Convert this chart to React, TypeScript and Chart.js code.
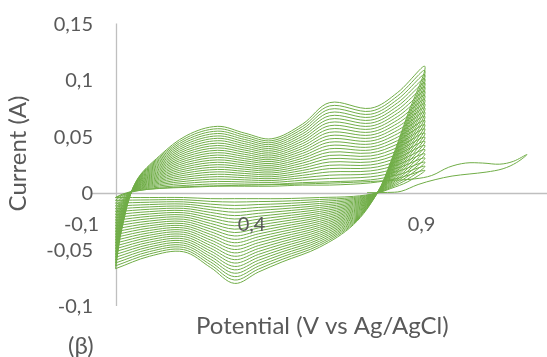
import React, { useEffect, useRef } from "react";
import { Chart, registerables } from "chart.js";

Chart.register(...registerables);

// Shared potential programme of every repeated cycle (V): anodic 0 -> 0.91, then cathodic back to 0
const potentials = [
  0.0, 0.02, 0.06, 0.13, 0.21, 0.3, 0.38, 0.46, 0.55, 0.63, 0.75, 0.83, 0.91,
  0.86, 0.81, 0.77, 0.7, 0.6, 0.49, 0.42, 0.35, 0.28, 0.2, 0.1, 0.0,
];

// Current (A) of each cycle, innermost to outermost
const cycle01 = [-0.004, -0.001, 0.002, 0.004, 0.005, 0.006, 0.006, 0.006, 0.007, 0.007, 0.009, 0.013, 0.02, 0.01, 0.004, 0, -0.003, -0.004, -0.005, -0.005, -0.005, -0.005, -0.004, -0.004, -0.004];
const cycle02 = [-0.00652, -0.00216, 0.00232, 0.00516, 0.00684, 0.00812, 0.00788, 0.00768, 0.00916, 0.00992, 0.01164, 0.01604, 0.02368, 0.0124, 0.00496, 0, -0.004, -0.00576, -0.00724, -0.0076, -0.008, -0.00744, -0.00592, -0.00608, -0.00652];
const cycle03 = [-0.00904, -0.00332, 0.00264, 0.00632, 0.00868, 0.01024, 0.00976, 0.00936, 0.01132, 0.01284, 0.01428, 0.01908, 0.02736, 0.0148, 0.00592, 0, -0.005, -0.00752, -0.00948, -0.0102, -0.011, -0.00988, -0.00784, -0.00816, -0.00904];
const cycle04 = [-0.01156, -0.00448, 0.00296, 0.00748, 0.01052, 0.01236, 0.01164, 0.01104, 0.01348, 0.01576, 0.01692, 0.02212, 0.03104, 0.0172, 0.00688, 0, -0.006, -0.00928, -0.01172, -0.0128, -0.014, -0.01232, -0.00976, -0.01024, -0.01156];
const cycle05 = [-0.01408, -0.00564, 0.00328, 0.00864, 0.01236, 0.01448, 0.01352, 0.01272, 0.01564, 0.01868, 0.01956, 0.02516, 0.03472, 0.0196, 0.00784, 0, -0.007, -0.01104, -0.01396, -0.0154, -0.017, -0.01476, -0.01168, -0.01232, -0.01408];
const cycle06 = [-0.0166, -0.0068, 0.0036, 0.0098, 0.0142, 0.0166, 0.0154, 0.0144, 0.0178, 0.0216, 0.0222, 0.0282, 0.0384, 0.022, 0.0088, 0, -0.008, -0.0128, -0.0162, -0.018, -0.02, -0.0172, -0.0136, -0.0144, -0.0166];
const cycle07 = [-0.01912, -0.00796, 0.00392, 0.01096, 0.01604, 0.01872, 0.01728, 0.01608, 0.01996, 0.02452, 0.02484, 0.03124, 0.04208, 0.0244, 0.00976, 0, -0.009, -0.01456, -0.01844, -0.0206, -0.023, -0.01964, -0.01552, -0.01648, -0.01912];
const cycle08 = [-0.02164, -0.00912, 0.00424, 0.01212, 0.01788, 0.02084, 0.01916, 0.01776, 0.02212, 0.02744, 0.02748, 0.03428, 0.04576, 0.0268, 0.01072, 0, -0.01, -0.01632, -0.02068, -0.0232, -0.026, -0.02208, -0.01744, -0.01856, -0.02164];
const cycle09 = [-0.02416, -0.01028, 0.00456, 0.01328, 0.01972, 0.02296, 0.02104, 0.01944, 0.02428, 0.03036, 0.03012, 0.03732, 0.04944, 0.0292, 0.01168, 0, -0.011, -0.01808, -0.02292, -0.0258, -0.029, -0.02452, -0.01936, -0.02064, -0.02416];
const cycle10 = [-0.02668, -0.01144, 0.00488, 0.01444, 0.02156, 0.02508, 0.02292, 0.02112, 0.02644, 0.03328, 0.03276, 0.04036, 0.05312, 0.0316, 0.01264, 0, -0.012, -0.01984, -0.02516, -0.0284, -0.032, -0.02696, -0.02128, -0.02272, -0.02668];
const cycle11 = [-0.0292, -0.0126, 0.0052, 0.0156, 0.0234, 0.0272, 0.0248, 0.0228, 0.0286, 0.0362, 0.0354, 0.0434, 0.0568, 0.034, 0.0136, 0, -0.013, -0.0216, -0.0274, -0.031, -0.035, -0.0294, -0.0232, -0.0248, -0.0292];
const cycle12 = [-0.03172, -0.01376, 0.00552, 0.01676, 0.02524, 0.02932, 0.02668, 0.02448, 0.03076, 0.03912, 0.03804, 0.04644, 0.06048, 0.0364, 0.01456, 0, -0.014, -0.02336, -0.02964, -0.0336, -0.038, -0.03184, -0.02512, -0.02688, -0.03172];
const cycle13 = [-0.03424, -0.01492, 0.00584, 0.01792, 0.02708, 0.03144, 0.02856, 0.02616, 0.03292, 0.04204, 0.04068, 0.04948, 0.06416, 0.0388, 0.01552, 0, -0.015, -0.02512, -0.03188, -0.0362, -0.041, -0.03428, -0.02704, -0.02896, -0.03424];
const cycle14 = [-0.03676, -0.01608, 0.00616, 0.01908, 0.02892, 0.03356, 0.03044, 0.02784, 0.03508, 0.04496, 0.04332, 0.05252, 0.06784, 0.0412, 0.01648, 0, -0.016, -0.02688, -0.03412, -0.0388, -0.044, -0.03672, -0.02896, -0.03104, -0.03676];
const cycle15 = [-0.03928, -0.01724, 0.00648, 0.02024, 0.03076, 0.03568, 0.03232, 0.02952, 0.03724, 0.04788, 0.04596, 0.05556, 0.07152, 0.0436, 0.01744, 0, -0.017, -0.02864, -0.03636, -0.0414, -0.047, -0.03916, -0.03088, -0.03312, -0.03928];
const cycle16 = [-0.0418, -0.0184, 0.0068, 0.0214, 0.0326, 0.0378, 0.0342, 0.0312, 0.0394, 0.0508, 0.0486, 0.0586, 0.0752, 0.046, 0.0184, 0, -0.018, -0.0304, -0.0386, -0.044, -0.05, -0.0416, -0.0328, -0.0352, -0.0418];
const cycle17 = [-0.04432, -0.01956, 0.00712, 0.02256, 0.03444, 0.03992, 0.03608, 0.03288, 0.04156, 0.05372, 0.05124, 0.06164, 0.07888, 0.0484, 0.01936, 0, -0.019, -0.03216, -0.04084, -0.0466, -0.053, -0.04404, -0.03472, -0.03728, -0.04432];
const cycle18 = [-0.04684, -0.02072, 0.00744, 0.02372, 0.03628, 0.04204, 0.03796, 0.03456, 0.04372, 0.05664, 0.05388, 0.06468, 0.08256, 0.0508, 0.02032, 0, -0.02, -0.03392, -0.04308, -0.0492, -0.056, -0.04648, -0.03664, -0.03936, -0.04684];
const cycle19 = [-0.04936, -0.02188, 0.00776, 0.02488, 0.03812, 0.04416, 0.03984, 0.03624, 0.04588, 0.05956, 0.05652, 0.06772, 0.08624, 0.0532, 0.02128, 0, -0.021, -0.03568, -0.04532, -0.0518, -0.059, -0.04892, -0.03856, -0.04144, -0.04936];
const cycle20 = [-0.05188, -0.02304, 0.00808, 0.02604, 0.03996, 0.04628, 0.04172, 0.03792, 0.04804, 0.06248, 0.05916, 0.07076, 0.08992, 0.0556, 0.02224, 0, -0.022, -0.03744, -0.04756, -0.0544, -0.062, -0.05136, -0.04048, -0.04352, -0.05188];
const cycle21 = [-0.0544, -0.0242, 0.0084, 0.0272, 0.0418, 0.0484, 0.0436, 0.0396, 0.0502, 0.0654, 0.0618, 0.0738, 0.0936, 0.058, 0.0232, 0, -0.023, -0.0392, -0.0498, -0.057, -0.065, -0.0538, -0.0424, -0.0456, -0.0544];
const cycle22 = [-0.05692, -0.02536, 0.00872, 0.02836, 0.04364, 0.05052, 0.04548, 0.04128, 0.05236, 0.06832, 0.06444, 0.07684, 0.09728, 0.0604, 0.02416, 0, -0.024, -0.04096, -0.05204, -0.0596, -0.068, -0.05624, -0.04432, -0.04768, -0.05692];
const cycle23 = [-0.05944, -0.02652, 0.00904, 0.02952, 0.04548, 0.05264, 0.04736, 0.04296, 0.05452, 0.07124, 0.06708, 0.07988, 0.10096, 0.0628, 0.02512, 0, -0.025, -0.04272, -0.05428, -0.0622, -0.071, -0.05868, -0.04624, -0.04976, -0.05944];
const cycle24 = [-0.06196, -0.02768, 0.00936, 0.03068, 0.04732, 0.05476, 0.04924, 0.04464, 0.05668, 0.07416, 0.06972, 0.08292, 0.10464, 0.0652, 0.02608, 0, -0.026, -0.04448, -0.05652, -0.0648, -0.074, -0.06112, -0.04816, -0.05184, -0.06196];
const cycle25 = [-0.06448, -0.02884, 0.00968, 0.03184, 0.04916, 0.05688, 0.05112, 0.04632, 0.05884, 0.07708, 0.07236, 0.08596, 0.10832, 0.0676, 0.02704, 0, -0.027, -0.04624, -0.05876, -0.0674, -0.077, -0.06356, -0.05008, -0.05392, -0.06448];
const cycle26 = [-0.067, -0.03, 0.01, 0.033, 0.051, 0.059, 0.053, 0.048, 0.061, 0.08, 0.075, 0.089, 0.112, 0.07, 0.028, 0, -0.028, -0.048, -0.061, -0.07, -0.08, -0.066, -0.052, -0.056, -0.067];

const cycles = [
  cycle01, cycle02, cycle03, cycle04, cycle05, cycle06, cycle07, cycle08, cycle09,
  cycle10, cycle11, cycle12, cycle13, cycle14, cycle15, cycle16, cycle17, cycle18,
  cycle19, cycle20, cycle21, cycle22, cycle23, cycle24, cycle25, cycle26,
];

// First (conditioning) scan that goes out to 1.21 V and back
const firstScanPotential = [
  0.74, 0.8, 0.84, 0.89, 0.94, 0.99, 1.04, 1.09, 1.14, 1.18, 1.21,
  1.17, 1.13, 1.08, 1.03, 0.98, 0.93, 0.88, 0.8, 0.7, 0.55, 0.4, 0.25, 0.12, 0.05, 0.0,
];
const firstScanCurrent = [
  0.0003, 0.0005, 0.0015, 0.0075, 0.0118, 0.015, 0.0168, 0.0185, 0.0215, 0.027, 0.034,
  0.028, 0.0255, 0.0265, 0.0265, 0.0228, 0.0155, 0.0125, 0.011, 0.0095, 0.008, 0.007, 0.006, 0.004, 0.001, -0.004,
];

const xTickValues = [-0.1, 0.4, 0.9];
const xTickLabels = ["-0,1", "0,4", "0,9"];
const yTickValues = [0.15, 0.1, 0.05, 0, -0.05, -0.1];
const yTickLabels = ["0,15", "0,1", "0,05", "0", "-0,05", "-0,1"];

const xTitle = "Potential (V vs Ag/AgCl)";
const yTitle = "Current (A)";
const panelLabel = "(β)";

const LINE_COLOR = "#70AD47";
const AXIS_COLOR = "#BFBFBF";
const TEXT_COLOR = "#595959";
const FONT = "Lato, 'Open Sans', sans-serif";

const excelAxes = {
  id: "excelAxes",
  beforeDatasetsDraw(chart: any) {
    const { ctx } = chart;
    const x = chart.scales.x;
    const y = chart.scales.y;
    const x0 = Math.round(x.getPixelForValue(0)) + 0.5;
    const y0 = Math.round(y.getPixelForValue(0)) + 0.5;
    ctx.save();
    ctx.strokeStyle = AXIS_COLOR;
    ctx.lineWidth = 1.3;
    ctx.beginPath();
    ctx.moveTo(x0, y.getPixelForValue(0.15));
    ctx.lineTo(x0, y.getPixelForValue(-0.1));
    ctx.stroke();
    ctx.beginPath();
    ctx.moveTo(x.getPixelForValue(-0.07), y0);
    ctx.lineTo(chart.width, y0);
    ctx.stroke();
    ctx.restore();
  },
  afterDatasetsDraw(chart: any) {
    const { ctx } = chart;
    const x = chart.scales.x;
    const y = chart.scales.y;
    ctx.save();
    ctx.fillStyle = TEXT_COLOR;
    ctx.font = `20px ${FONT}`;
    ctx.textAlign = "right";
    ctx.textBaseline = "middle";
    yTickValues.forEach((v, i) => {
      ctx.fillText(yTickLabels[i], 93, y.getPixelForValue(v) + 1);
    });
    ctx.textAlign = "center";
    const xLabelY = y.getPixelForValue(0) + 32;
    xTickValues.forEach((v, i) => {
      ctx.fillText(xTickLabels[i], x.getPixelForValue(v), xLabelY);
    });
    ctx.font = `24px ${FONT}`;
    ctx.textAlign = "left";
    ctx.textBaseline = "alphabetic";
    ctx.fillText(xTitle, 196, 333.5);
    ctx.fillText(panelLabel, 68, 354);
    ctx.save();
    ctx.translate(18.5, 153.5);
    ctx.rotate(-Math.PI / 2);
    ctx.textAlign = "center";
    ctx.textBaseline = "middle";
    ctx.fillText(yTitle, 0, 0);
    ctx.restore();
    ctx.restore();
  },
};

export default function App() {
  const canvasRef = useRef<HTMLCanvasElement | null>(null);

  useEffect(() => {
    document.body.style.margin = "0";
    const canvas = canvasRef.current;
    if (!canvas) return;

    const datasets: any[] = cycles.map((currents, c) => ({
      label: `Cycle ${c + 2}`,
      data: potentials.map((v, i) => ({ x: v, y: currents[i] })),
    }));
    datasets.unshift({
      label: "Cycle 1",
      data: firstScanPotential.map((v, i) => ({ x: v, y: firstScanCurrent[i] })),
    });
    datasets.forEach((d) => {
      d.showLine = true;
      d.borderColor = LINE_COLOR;
      d.backgroundColor = LINE_COLOR;
      d.borderWidth = 1;
      d.pointRadius = 0;
      d.tension = 0.35;
      d.fill = false;
      d.clip = false;
    });

    const chart = new Chart(canvas, {
      type: "scatter",
      data: { datasets },
      options: {
        animation: false,
        responsive: false,
        maintainAspectRatio: false,
        layout: { padding: { left: 115.5, right: 6.5, top: 23.5, bottom: 51 } },
        scales: {
          x: { type: "linear", min: 0, max: 1.25, display: false },
          y: { type: "linear", min: -0.1, max: 0.15, display: false },
        },
        plugins: {
          legend: { display: false },
          tooltip: { enabled: false },
        },
      },
      plugins: [excelAxes],
    });
    return () => chart.destroy();
  }, []);

  return (
    <div style={{ position: "fixed", left: 0, top: 0, width: 547, height: 357, background: "#fff" }}>
      <canvas ref={canvasRef} width={547} height={357} style={{ width: 547, height: 357, display: "block" }} />
    </div>
  );
}
